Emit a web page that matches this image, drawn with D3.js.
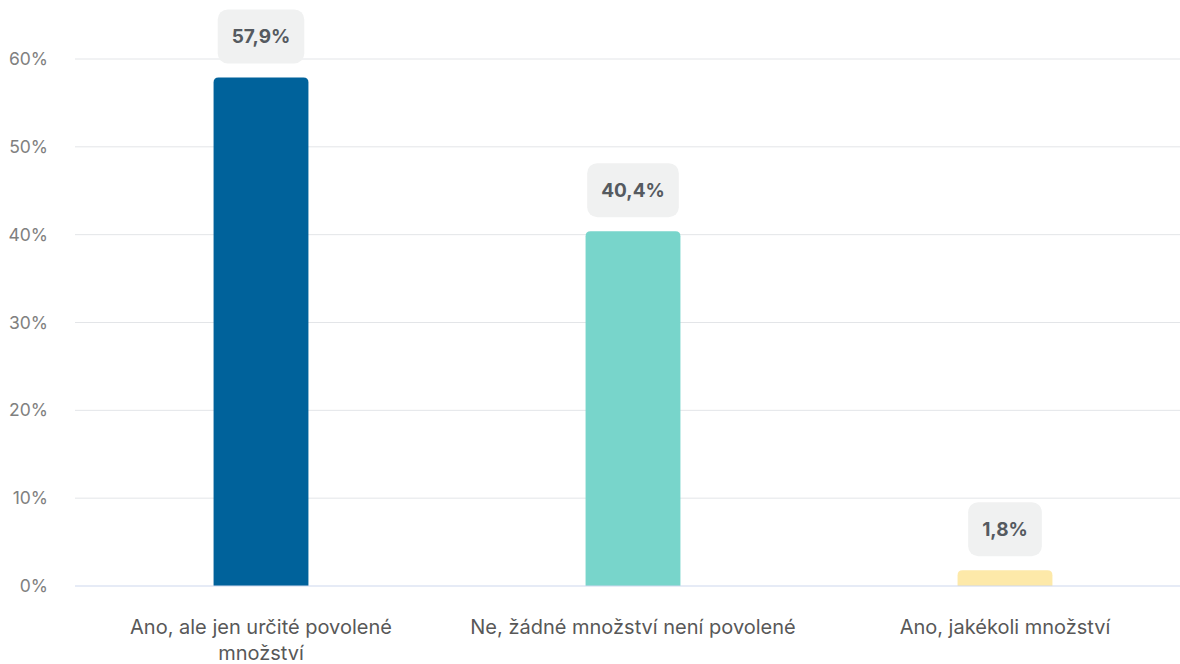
<!DOCTYPE html>
<html><head><meta charset="utf-8">
<script src="https://cdn.jsdelivr.net/npm/d3@7"></script>
<style>
html,body{margin:0;padding:0;background:#fff;}
svg{display:block;font-family:Inter,"Noto Sans",sans-serif;}
</style></head>
<body>
<svg id="c" width="1180" height="664"></svg>
<script>
const categories = ["Ano, ale jen určité povolené množství", "Ne, žádné množství není povolené", "Ano, jakékoli množství"];
const categoryLines = [["Ano, ale jen určité povolené", "množství"], ["Ne, žádné množství není povolené"], ["Ano, jakékoli množství"]];
const values = [57.9, 40.4, 1.8];
const valueLabels = ["57,9%", "40,4%", "1,8%"];
const colors = ["#00629b", "#78d5cb", "#fde9a9"];
const yTicks = [0, 10, 20, 30, 40, 50, 60];

const svg = d3.select("#c");
const x = d3.scaleBand().domain(categories).range([75, 1191]).paddingInner(0.745).paddingOuter(0.3725);
const y = d3.scaleLinear().domain([0, 60]).range([586, 59]);

// grid
svg.append("g").selectAll("line").data(yTicks.filter(t => t > 0)).join("line")
  .attr("x1", 75).attr("x2", 1180)
  .attr("y1", d => y(d)).attr("y2", d => y(d))
  .attr("stroke", "#e3e5e8").attr("stroke-width", 1);

// y labels
svg.append("g").selectAll("text").data(yTicks).join("text")
  .attr("x", 48).attr("y", d => y(d)).attr("dy", "0.35em")
  .attr("text-anchor", "end").attr("fill", "#808080").attr("font-size", 17.5)
  .text(d => d + "%");

// bars with rounded top
const r = 5;
svg.append("g").selectAll("path").data(values).join("path")
  .attr("fill", (d, i) => colors[i])
  .attr("d", (d, i) => {
    const x0 = x(categories[i]), w = x.bandwidth(), y0 = y(d), y1 = y(0);
    const rr = Math.min(r, (y1 - y0));
    return `M${x0},${y1}V${y0 + rr}Q${x0},${y0} ${x0 + rr},${y0}H${x0 + w - rr}Q${x0 + w},${y0} ${x0 + w},${y0 + rr}V${y1}Z`;
  });

// baseline
svg.append("line").attr("x1", 75).attr("x2", 1180).attr("y1", y(0)).attr("y2", y(0))
  .attr("stroke", "#cdd8ee").attr("stroke-width", 1.2);

// value labels
const lg = svg.append("g").selectAll("g").data(values).join("g")
  .attr("transform", (d, i) => `translate(${x(categories[i]) + x.bandwidth() / 2},${y(d) - 14 - 27})`);
lg.each(function (d, i) {
  const g = d3.select(this);
  const t = g.append("text").attr("text-anchor", "middle").attr("dy", "0.35em")
    .attr("font-size", 19).attr("font-weight", 700).attr("fill", "#555a60").text(valueLabels[i]);
  const w = t.node().getComputedTextLength() + 28;
  g.insert("rect", "text").attr("x", -w / 2).attr("y", -27).attr("width", w).attr("height", 54)
    .attr("rx", 10).attr("fill", "#f0f1f1");
});

// x labels
svg.append("g").selectAll("text").data(categories).join("text")
  .attr("x", d => x(d) + x.bandwidth() / 2).attr("y", 627)
  .attr("text-anchor", "middle").attr("fill", "#585858").attr("font-size", 20)
  .each(function (d, i) {
    d3.select(this).selectAll("tspan").data(categoryLines[i]).join("tspan")
      .attr("x", x(d) + x.bandwidth() / 2).attr("dy", (l, j) => j === 0 ? "0.35em" : "26px").text(l => l);
  });
</script>
</body></html>
